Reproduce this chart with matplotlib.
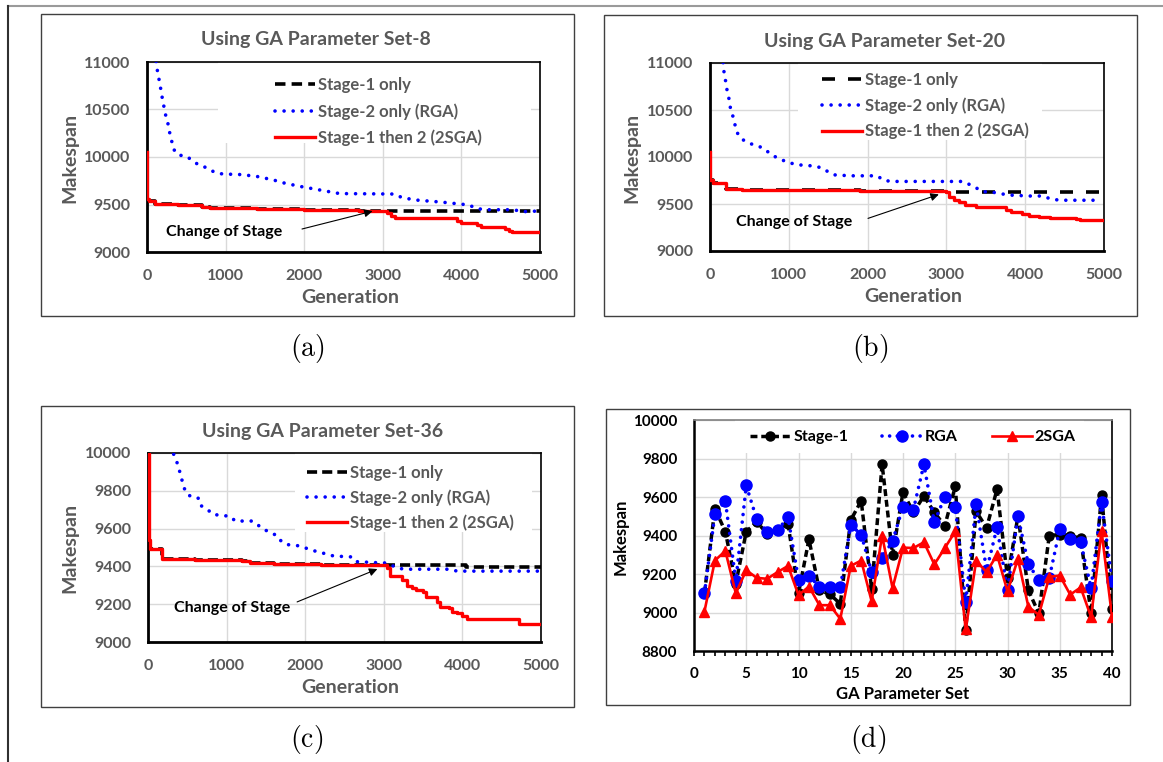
import matplotlib
matplotlib.use('Agg')
import matplotlib.pyplot as plt
from matplotlib.patches import Rectangle
from matplotlib.lines import Line2D
from matplotlib.ticker import MultipleLocator

plt.rcParams['font.family'] = ['Lato', 'DejaVu Sans']
plt.rcParams['font.weight'] = 'bold'
plt.rcParams['axes.labelweight'] = 'bold'
plt.rcParams['mathtext.fontset'] = 'cm'

GRAY = '#595959'
GRID = '#d9d9d9'

# ---- (a) GA parameter set 8 ----
a_s1_gen = [0, 5, 30, 100, 400, 500, 700, 800, 1000, 1400, 2000, 2700, 3000, 5000]
a_s1_val = [10050, 9560, 9540, 9510, 9500, 9490, 9475, 9465, 9460, 9450, 9445, 9435, 9430, 9430]
a_rga_gen = [100, 130, 150, 170, 190, 220, 240, 270, 290, 340, 400, 500, 580, 670, 750, 820,
             920, 1000, 1200, 1400, 1600, 1750, 1950, 2150, 2350, 2450, 2900, 3150, 3250,
             3450, 3750, 3980, 4100, 4180, 4300, 4650, 4800, 4950]
a_rga_val = [11100, 10920, 10830, 10740, 10640, 10510, 10430, 10340, 10250, 10080, 10020, 10010,
             9960, 9910, 9890, 9855, 9825, 9820, 9815, 9795, 9760, 9725, 9690, 9660, 9630, 9615,
             9612, 9610, 9570, 9545, 9525, 9505, 9495, 9460, 9445, 9445, 9425, 9430]
a_2s_gen = [0, 5, 30, 100, 400, 500, 700, 800, 1000, 1400, 2000, 2700, 3000, 3050, 3100, 3150,
            3950, 4000, 4200, 4250, 4550, 4600, 4650, 5000]
a_2s_val = [10050, 9560, 9540, 9510, 9500, 9490, 9475, 9465, 9460, 9450, 9445, 9435, 9430, 9410,
            9380, 9360, 9325, 9310, 9280, 9262, 9240, 9225, 9212, 9212]

# ---- (b) GA parameter set 20 ----
b_s1_gen = [0, 5, 40, 180, 200, 400, 1000, 1900, 3000, 5000]
b_s1_val = [10050, 9760, 9720, 9720, 9660, 9650, 9645, 9635, 9630, 9630]
b_rga_gen = [155, 170, 180, 200, 220, 245, 260, 290, 340, 395, 465, 565, 665, 735, 810, 895, 985,
             1090, 1210, 1315, 1415, 1485, 1575, 1780, 2120, 2210, 2315, 3000, 3210, 3300, 3380,
             3470, 3560, 3685, 3800, 4050, 4230, 4330, 4460, 4900]
b_rga_val = [11100, 10975, 10885, 10800, 10690, 10605, 10515, 10435, 10265, 10195, 10160, 10125,
             10100, 10055, 10010, 9975, 9945, 9920, 9910, 9905, 9885, 9850, 9810, 9800, 9800,
             9750, 9740, 9740, 9740, 9705, 9670, 9630, 9630, 9610, 9595, 9585, 9585, 9550, 9540,
             9540]
b_2s_gen = [0, 5, 40, 180, 200, 400, 1000, 1900, 3000, 3030, 3095, 3160, 3230, 3370, 3710, 3750,
            3820, 3960, 4050, 4180, 4320, 4640, 4700, 5000]
b_2s_val = [10050, 9760, 9720, 9720, 9660, 9650, 9645, 9635, 9630, 9575, 9540, 9520, 9485, 9470,
            9470, 9434, 9413, 9398, 9370, 9363, 9352, 9345, 9335, 9328]

# ---- (c) GA parameter set 36 ----
c_s1_gen = [0, 10, 30, 180, 600, 1200, 1300, 1600, 2200, 3000, 4050, 5000]
c_s1_val = [10000, 9540, 9490, 9438, 9432, 9428, 9420, 9412, 9408, 9408, 9395, 9395]
c_rga_gen = [300, 320, 365, 395, 420, 450, 480, 560, 650, 680, 760, 825, 935, 1045, 1110, 1330,
             1395, 1475, 1560, 1650, 1700, 1780, 1900, 1985, 2095, 2175, 2280, 2360, 2600, 2655,
             2885, 2995, 3080, 3180, 3280, 3825, 3935, 5000]
c_rga_val = [10040, 10000, 9955, 9915, 9875, 9830, 9790, 9765, 9760, 9720, 9700, 9675, 9670,
             9665, 9640, 9640, 9620, 9595, 9580, 9560, 9530, 9515, 9510, 9500, 9485, 9475, 9465,
             9455, 9450, 9425, 9420, 9420, 9410, 9390, 9385, 9385, 9375, 9375]
c_2s_gen = [0, 10, 30, 180, 600, 1200, 1300, 1600, 2200, 3000, 3040, 3080, 3235, 3290, 3365,
            3410, 3500, 3540, 3675, 3720, 3825, 3870, 3935, 4000, 4060, 4715, 5000]
c_2s_val = [10000, 9540, 9490, 9438, 9432, 9428, 9420, 9412, 9408, 9408, 9390, 9350, 9330, 9295,
            9285, 9273, 9267, 9240, 9213, 9187, 9178, 9160, 9153, 9140, 9123, 9095, 9095]

# ---- (d) all 40 parameter sets ----
param_set = list(range(1, 41))
stage1 = [9100, 9540, 9420, 9150, 9420, 9470, 9410, 9430, 9460, 9100, 9380, 9115, 9095, 9045,
          9480, 9580, 9120, 9770, 9300, 9625, 9520, 9605, 9520, 9450, 9655, 8910, 9525, 9440,
          9640, 9180, 9500, 9115, 8995, 9400, 9405, 9400, 9385, 8995, 9610, 9020]
rga = [9100, 9510, 9580, 9165, 9660, 9485, 9420, 9428, 9495, 9170, 9190, 9135, 9135, 9130, 9455,
       9405, 9210, 9285, 9370, 9550, 9535, 9770, 9470, 9600, 9550, 9055, 9562, 9220, 9442, 9115,
       9500, 9250, 9170, 9180, 9432, 9380, 9365, 9128, 9572, 9166]
twosga = [9005, 9270, 9320, 9100, 9220, 9180, 9175, 9210, 9242, 9090, 9135, 9038, 9038, 8967,
          9242, 9270, 9058, 9400, 9127, 9337, 9335, 9365, 9250, 9335, 9421, 8912, 9268, 9210,
          9300, 9110, 9278, 9029, 8988, 9185, 9192, 9093, 9130, 8976, 9423, 8979]

W, H = 1163, 762


def px_rect(left, top, right, bottom):
    return [left / W, 1 - bottom / H, (right - left) / W, (bottom - top) / H]


def chart_box(fig, left, top, right, bottom):
    fig.patches.append(Rectangle((left / W, 1 - bottom / H), (right - left) / W,
                                 (bottom - top) / H, transform=fig.transFigure,
                                 fill=False, ec='#404040', lw=1.0))


def conv_panel(fig, rect, title, ylim, ystep, s1, rga, ts, s1_dash, title_xy, lab_x, lab_y,
               leg_anchor, leg_space, white_box, note, tail, head):
    ax = fig.add_axes(rect)
    ax.set_axisbelow(True)
    ax.grid(True, color=GRID, lw=1.0)
    # white area behind the legend, hides the grid like the excel legend box
    x0, y0, x1 = white_box
    ax.add_patch(Rectangle((x0, y0), x1 - x0, 1 - y0, transform=ax.transAxes,
                           fc='white', ec='none', zorder=1))

    l1, = ax.step(s1[0], s1[1], where='post', color='black', lw=2.6,
                  dashes=s1_dash, label='Stage-1 only', zorder=3)
    l2, = ax.plot(rga[0], rga[1], color='#0000ff', lw=2.6, dashes=(0.01, 2.5),
                  dash_capstyle='round', label='Stage-2 only (RGA)', zorder=3)
    l3, = ax.step(ts[0], ts[1], where='post', color='#ff0000', lw=2.4,
                  label='Stage-1 then 2 (2SGA)', zorder=4)

    ax.set_xlim(0, 5000)
    ax.set_ylim(*ylim)
    ax.xaxis.set_major_locator(MultipleLocator(1000))
    ax.yaxis.set_major_locator(MultipleLocator(ystep))
    ax.tick_params(length=0, pad=12, labelsize=11.5, labelcolor=GRAY)
    for side in ['left', 'bottom']:
        ax.spines[side].set_linewidth(2.0)
    for side in ['top', 'right']:
        ax.spines[side].set_linewidth(1.2)

    ax.text(title_xy[0], title_xy[1], title, transform=ax.transAxes, ha='center',
            va='center', fontsize=14, color=GRAY)
    ax.set_xlabel('Generation', fontsize=14, color=GRAY, va='center')
    ax.xaxis.set_label_coords(*lab_x)
    ax.set_ylabel('Makespan', fontsize=14, color=GRAY, va='center')
    ax.yaxis.set_label_coords(*lab_y)

    leg = ax.legend(handles=[l1, l2, l3], loc='upper left', bbox_to_anchor=leg_anchor,
                    frameon=False, borderpad=0, borderaxespad=0, fontsize=12,
                    handlelength=2.4, handletextpad=0.2, labelspacing=leg_space)
    for t in leg.get_texts():
        t.set_color(GRAY)

    ax.text(note[0], note[1], 'Change of Stage', ha='center', va='center', fontsize=11.5,
            color='black', zorder=5)
    ax.annotate('', xy=head, xytext=tail,
                arrowprops=dict(arrowstyle='-|>', color='black', lw=0.8,
                                mutation_scale=12, shrinkA=0, shrinkB=0), zorder=5)
    return ax


def summary_panel(fig, rect):
    ax = fig.add_axes(rect)
    ax.set_axisbelow(True)
    ax.grid(True, color=GRID, lw=1.0)
    ax.add_patch(Rectangle((0.099, 0.857), 0.835, 0.143, transform=ax.transAxes,
                           fc='white', ec='none', zorder=1))

    ax.plot(param_set, stage1, color='black', lw=2.5, dashes=(2.0, 1.1), marker='o',
            ms=6.5, label='Stage-1', zorder=3)
    ax.plot(param_set, rga, color='#0000ff', lw=2.6, dashes=(0.01, 2.1),
            dash_capstyle='round', marker='o', ms=8, label='RGA', zorder=3)
    ax.plot(param_set, twosga, color='#ff0000', lw=1.9, marker='^', ms=6.5,
            label='2SGA', zorder=4)

    ax.set_xlim(0, 40)
    ax.set_ylim(8800, 10000)
    ax.xaxis.set_major_locator(MultipleLocator(5))
    ax.xaxis.set_minor_locator(MultipleLocator(1))
    ax.yaxis.set_major_locator(MultipleLocator(200))
    ax.grid(False, which='minor')
    ax.tick_params(axis='x', which='both', direction='out', length=3.5, width=1.2,
                   pad=8, labelsize=11)
    ax.tick_params(axis='y', length=0, pad=12, labelsize=11)
    ax.spines['left'].set_linewidth(1.8)
    ax.spines['bottom'].set_linewidth(1.8)
    ax.spines['right'].set_linewidth(1.2)
    ax.spines['top'].set_linewidth(1.2)
    ax.spines['top'].set_color('#808080')

    ax.set_xlabel('GA Parameter Set', fontsize=12, va='center')
    ax.xaxis.set_label_coords(0.5, -0.184)
    ax.set_ylabel('Makespan', fontsize=12, va='center')
    ax.yaxis.set_label_coords(-0.176, 0.496)

    ax.legend(loc='upper left', bbox_to_anchor=(0.135, 0.957), ncol=3, frameon=False,
              borderpad=0, borderaxespad=0, fontsize=11.5, handlelength=2.5,
              handletextpad=0.2, columnspacing=2.1)
    return ax


def main():
    fig = plt.figure(figsize=(W / 100, H / 100), dpi=100)

    # page frame lines
    fig.add_artist(Line2D([8 / W, 1], [1 - 6 / H, 1 - 6 / H], transform=fig.transFigure,
                          color='#9a9a9a', lw=1.5))
    fig.add_artist(Line2D([8 / W, 8 / W], [0, 1 - 6 / H], transform=fig.transFigure,
                          color='#303030', lw=1.5))

    chart_box(fig, 41, 14, 574, 316)
    chart_box(fig, 604, 15, 1137, 316)
    chart_box(fig, 41, 406, 574, 707)
    chart_box(fig, 606, 409, 1130, 705)

    conv_panel(fig, px_rect(147, 62, 540, 252), 'Using GA Parameter Set-8', (9000, 11000), 500,
               (a_s1_gen, a_s1_val), (a_rga_gen, a_rga_val), (a_2s_gen, a_2s_val),
               (2.9, 1.7), (0.43, 1.116), (0.517, -0.237), (-0.196, 0.495),
               (0.326, 0.92), 0.6, (0.18, 0.574, 0.977),
               (980, 9210), (1972, 9242), (2870, 9430))
    conv_panel(fig, px_rect(710, 63, 1104, 251), 'Using GA Parameter Set-20', (9000, 11000), 500,
               (b_s1_gen, b_s1_val), (b_rga_gen, b_rga_val), (b_2s_gen, b_2s_val),
               (3.6, 3.6), (0.442, 1.117), (0.516, -0.244), (-0.198, 0.494),
               (0.283, 0.952), 0.55, (0.224, 0.589, 0.843),
               (1064, 9304), (2005, 9347), (2904, 9602))
    conv_panel(fig, px_rect(148, 453, 541, 642), 'Using GA Parameter Set-36', (9000, 10000), 200,
               (c_s1_gen, c_s1_val), (c_rga_gen, c_rga_val), (c_2s_gen, c_2s_val),
               (2.8, 1.4), (0.443, 1.116), (0.515, -0.243), (-0.199, 0.497),
               (0.404, 0.935), 0.49, (0.375, 0.582, 0.976),
               (1076, 9180), (1897, 9212), (2918, 9386))
    summary_panel(fig, px_rect(694, 420, 1112, 651))

    for lab, x, y in [('(a)', 307, 348), ('(b)', 870, 348), ('(c)', 307, 739), ('(d)', 868, 739)]:
        fig.text(x / W, 1 - y / H, r'$\mathrm{' + lab + '}$', ha='center', va='center',
                 fontsize=20)

    fig.savefig('out.png', dpi=100)
    plt.close(fig)


if __name__ == '__main__':
    main()
